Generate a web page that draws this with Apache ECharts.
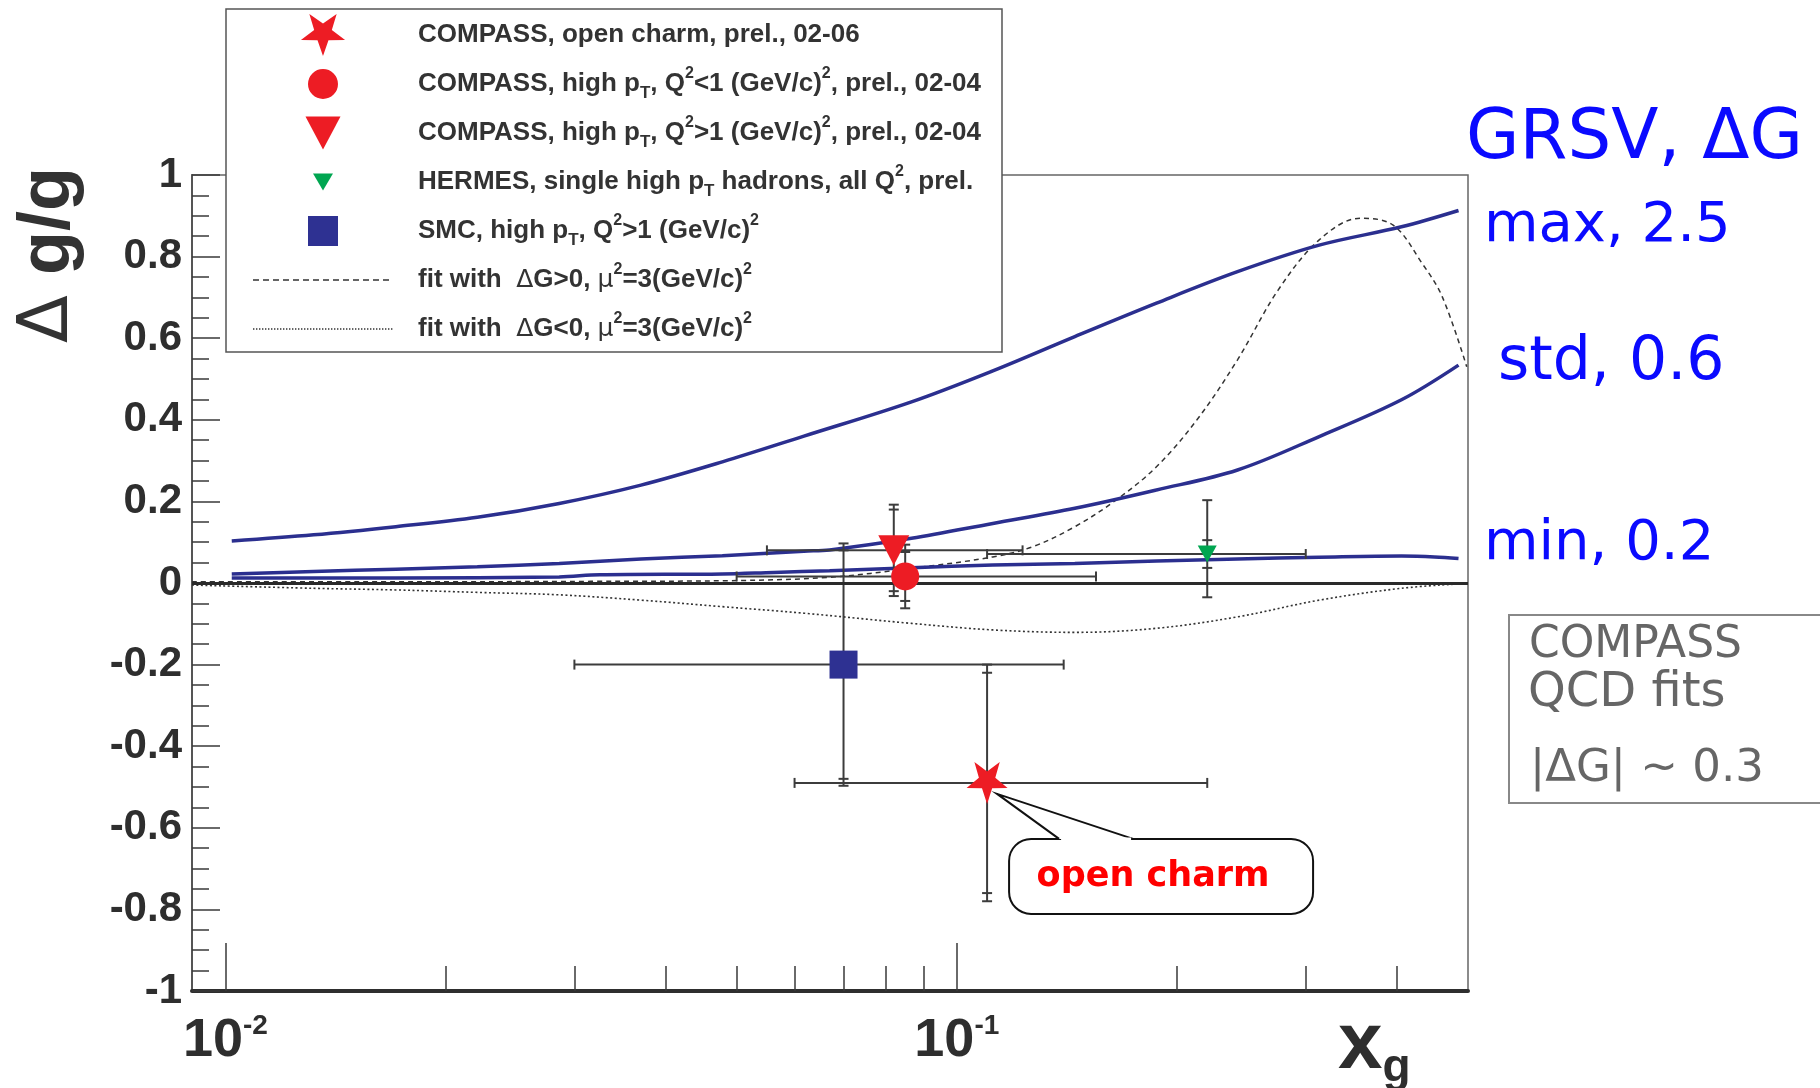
<!DOCTYPE html>
<html><head><meta charset="utf-8">
<script src="https://cdn.jsdelivr.net/npm/echarts@6/dist/echarts.min.js"></script>
<style>html,body{margin:0;padding:0;background:#fff}#c{width:1820px;height:1088px}</style>
</head><body><div id="c"></div>
<script>
// ---------------- data ----------------
const X_MIN = 0.009, X_MAX = 0.5;
const Y_MIN = -1, Y_MAX = 1, Y_STEP = 0.2;
const X_MAJOR_TICKS = [0.01, 0.1];
const X_MINOR_TICKS = [0.02, 0.03, 0.04, 0.05, 0.06, 0.07, 0.08, 0.09, 0.2, 0.3, 0.4];

// GRSV curves (Delta g / g)
const GRSV_MAX_X = [0.0102, 0.0132, 0.0171, 0.0221, 0.0286, 0.037, 0.0478, 0.0618, 0.0867, 0.112, 0.145, 0.1875, 0.242, 0.313, 0.4055, 0.4853];
const GRSV_MAX_Y = [0.103, 0.118, 0.138, 0.161, 0.195, 0.240, 0.297, 0.360, 0.444, 0.520, 0.604, 0.686, 0.763, 0.828, 0.873, 0.913];
const GRSV_STD_X = [0.0102, 0.0132, 0.0171, 0.0221, 0.0286, 0.037, 0.0478, 0.0618, 0.067, 0.0867, 0.112, 0.145, 0.1875, 0.242, 0.313, 0.4055, 0.4853];
const GRSV_STD_Y = [0.022, 0.028, 0.034, 0.040, 0.048, 0.059, 0.067, 0.078, 0.081, 0.1095, 0.146, 0.183, 0.228, 0.277, 0.359, 0.449, 0.534];
const GRSV_MIN_X = [0.0102, 0.0171, 0.0286, 0.0325, 0.0478, 0.0562, 0.067, 0.0867, 0.112, 0.145, 0.1875, 0.242, 0.313, 0.4055, 0.45, 0.4853];
const GRSV_MIN_Y = [0.012, 0.012, 0.015, 0.020, 0.022, 0.026, 0.030, 0.0375, 0.044, 0.048, 0.054, 0.059, 0.063, 0.066, 0.064, 0.060];

// COMPASS QCD fits
const FIT_POS_X = [0.009, 0.0171, 0.0316, 0.05, 0.067, 0.0867, 0.112, 0.127, 0.145, 0.165, 0.1875, 0.213, 0.242, 0.275, 0.313, 0.356, 0.395, 0.4325, 0.461, 0.498];
const FIT_POS_Y = [0.003, 0.003, 0.004, 0.006, 0.014, 0.036, 0.064, 0.089, 0.138, 0.203, 0.285, 0.400, 0.547, 0.718, 0.841, 0.894, 0.877, 0.784, 0.702, 0.530];
const FIT_NEG_X = [0.009, 0.0132, 0.0171, 0.0221, 0.0286, 0.037, 0.0478, 0.0618, 0.0867, 0.112, 0.145, 0.1875, 0.242, 0.313, 0.4055, 0.498];
const FIT_NEG_Y = [-0.005, -0.013, -0.017, -0.023, -0.029, -0.042, -0.058, -0.074, -0.099, -0.115, -0.121, -0.111, -0.083, -0.042, -0.013, -0.001];

// Measurements: open charm, high pT Q2<1, high pT Q2>1, HERMES, SMC
const PT_X      = [0.11, 0.085, 0.082, 0.22, 0.07];
const PT_Y      = [-0.49, 0.016, 0.08, 0.071, -0.20];
const PT_XLO    = [0.06, 0.05, 0.055, 0.11, 0.03];
const PT_XHI    = [0.22, 0.155, 0.123, 0.30, 0.14];
const PT_STATLO = [0.27, 0.06, 0.10, 0.034, 0.28];
const PT_STATHI = [0.27, 0.06, 0.10, 0.034, 0.28];
const PT_TOTLO  = [0.29, 0.078, 0.112, 0.106, 0.297];
const PT_TOTHI  = [0.29, 0.078, 0.112, 0.132, 0.297];

const SERIES_NAMES = [
  'COMPASS, open charm, prel., 02-06',
  'COMPASS, high pT, Q2<1 (GeV/c)2, prel., 02-04',
  'COMPASS, high pT, Q2>1 (GeV/c)2, prel., 02-04',
  'HERMES, single high pT hadrons, all Q2, prel.',
  'SMC, high pT, Q2>1 (GeV/c)2',
  'fit with ΔG>0, μ2=3(GeV/c)2',
  'fit with ΔG<0, μ2=3(GeV/c)2'
];
const LEGEND_TEXT = [
  '{g| }{b|COMPASS, open charm, prel., 02-06}',
  '{g| }{b|COMPASS, high p}{sub|T}{b|, Q}{sup|2}{b|<1 (GeV/c)}{sup|2}{b|, prel., 02-04}',
  '{g| }{b|COMPASS, high p}{sub|T}{b|, Q}{sup|2}{b|>1 (GeV/c)}{sup|2}{b|, prel., 02-04}',
  '{g| }{b|HERMES, single high p}{sub|T}{b| hadrons, all Q}{sup|2}{b|, prel.}',
  '{g| }{b|SMC, high p}{sub|T}{b|, Q}{sup|2}{b|>1 (GeV/c)}{sup|2}',
  '{g| }{b|fit with  }{sym|Δ}{b|G>0, }{sym|μ}{sup|2}{b|=3(GeV/c)}{sup|2}',
  '{g| }{b|fit with  }{sym|Δ}{b|G<0, }{sym|μ}{sup|2}{b|=3(GeV/c)}{sup|2}'
];

// ---------------- helpers ----------------
const L10 = Math.log10;
const pairs = (xs, ys) => xs.map((x, i) => [L10(x), ys[i]]);

const STAR = 'path://M50,100L38.2,66.2L2.45,65.45L31,43.8L20.6,9.55L50,30L79.4,9.55L69,43.8L97.55,65.45L61.8,66.2Z';
const TRI_DOWN = 'path://M0,0L100,0L50,87Z';
function dashIcon(dash, gap, h) {
  let s = 'path://M0,0M140,42';
  for (let x = 0; x + dash <= 140.01; x += dash + gap) {
    s += 'M' + x + ',' + (21 - h / 2) + 'L' + (x + dash) + ',' + (21 - h / 2) + 'L' + (x + dash) + ',' + (21 + h / 2) + 'L' + x + ',' + (21 + h / 2) + 'Z';
  }
  return s;
}
const LEGEND_ICONS = [
  STAR,
  'path://M0,0M100,100M14.3,50A35.7,35.7,0,1,1,85.7,50A35.7,35.7,0,1,1,14.3,50Z',
  'path://M0,0M100,100M8.3,10.7L91.7,10.7L50,89.3Z',
  'path://M0,0M100,100M26.2,29.8L73.8,29.8L50,70.2Z',
  'path://M0,0M100,100M14.3,14.3L85.7,14.3L85.7,85.7L14.3,85.7Z',
  dashIcon(6, 4, 1.4),
  dashIcon(1.4, 1.6, 1.4)
];
const MARKERS = [
  {symbol: STAR, size: [41, 42], color: '#ed1c24'},
  {symbol: 'circle', size: 28, color: '#ed1c24'},
  {symbol: TRI_DOWN, size: [31, 30], color: '#ed1c24'},
  {symbol: TRI_DOWN, size: [19, 17], color: '#00a651'},
  {symbol: 'rect', size: 28, color: '#2e3192'}
];

const ERR_DATA = PT_X.map((x, i) => [L10(x), PT_Y[i], L10(PT_XLO[i]), L10(PT_XHI[i]),
  PT_Y[i] - PT_STATLO[i], PT_Y[i] + PT_STATHI[i], PT_Y[i] - PT_TOTLO[i], PT_Y[i] + PT_TOTHI[i]]);

function renderErr(params, api) {
  const x = api.value(0), y = api.value(1);
  const c = api.coord([x, y]);
  const xl = api.coord([api.value(2), y])[0];
  const xh = api.coord([api.value(3), y])[0];
  const s1 = api.coord([x, api.value(4)])[1];
  const s2 = api.coord([x, api.value(5)])[1];
  const t1 = api.coord([x, api.value(6)])[1];
  const t2 = api.coord([x, api.value(7)])[1];
  const st = {stroke: '#3c3c3c', lineWidth: 2};
  const L = (x1, y1, x2, y2) => ({type: 'line', shape: {x1, y1, x2, y2}, style: st});
  const cap = 5, hcap = 5;
  return {type: 'group', children: [
    L(xl, c[1], xh, c[1]), L(xl, c[1] - hcap, xl, c[1] + hcap), L(xh, c[1] - hcap, xh, c[1] + hcap),
    L(c[0], t1, c[0], t2),
    L(c[0] - cap, s1, c[0] + cap, s1), L(c[0] - cap, s2, c[0] + cap, s2),
    L(c[0] - cap, t1, c[0] + cap, t1), L(c[0] - cap, t2, c[0] + cap, t2)
  ]};
}

function renderCallout(params, api) {
  const p = api.coord([api.value(0), api.value(1)]);
  const bx = p[0] + 22, by = p[1] + 56, bw = 304, bh = 75;
  const tip = [p[0] + 10, p[1] + 11], b1 = [p[0] + 72, by], b2 = [p[0] + 146, by];
  return {type: 'group', children: [
    {type: 'rect', shape: {x: bx, y: by, width: bw, height: bh, r: 22}, style: {fill: '#fff', stroke: '#111', lineWidth: 2}},
    {type: 'polyline', shape: {points: [b1, tip, b2]}, style: {fill: '#fff', stroke: '#111', lineWidth: 2}},
    {type: 'line', shape: {x1: b1[0] + 2, y1: by, x2: b2[0] - 2, y2: by}, style: {stroke: '#fff', lineWidth: 3}},
    {type: 'text', style: {text: 'open charm', x: bx + bw / 2 - 8, y: by + bh / 2, align: 'center', verticalAlign: 'middle',
      fill: '#ff0000', font: 'bold 35px "DejaVu Sans"'}}
  ]};
}

const FONT = 'Liberation Sans';
const AXIS_COL = '#3a3a3a';

const series = [];
const lineSpec = (name, xs, ys, color, width, type, z) => ({
  name, type: 'line', data: pairs(xs, ys), symbol: 'none', smooth: 0.35, z,
  color, itemStyle: {color}, lineStyle: {color, width, type}, silent: true
});
series.push(lineSpec('GRSV max', GRSV_MAX_X, GRSV_MAX_Y, '#2b2f8f', 3.5, 'solid', 3));
series.push(lineSpec('GRSV std', GRSV_STD_X, GRSV_STD_Y, '#2b2f8f', 3.5, 'solid', 3));
const minS = lineSpec('GRSV min', GRSV_MIN_X, GRSV_MIN_Y, '#2b2f8f', 3.5, 'solid', 3);
minS.markLine = {silent: true, symbol: ['none', 'none'], label: {show: false}, animation: false,
  lineStyle: {color: '#2a2a2a', width: 3, type: 'solid'}, data: [{yAxis: 0}]};
series.push(minS);
series.push(lineSpec(SERIES_NAMES[5], FIT_POS_X, FIT_POS_Y, '#333', 1.5, [5, 4], 2));
series.push(lineSpec(SERIES_NAMES[6], FIT_NEG_X, FIT_NEG_Y, '#333', 1.6, [2, 2.5], 2));
series.push({type: 'custom', name: 'errors', renderItem: renderErr, data: ERR_DATA, z: 4, silent: true,
  encode: {x: 0, y: 1}});
PT_X.forEach((x, i) => {
  const m = MARKERS[i];
  series.push({name: SERIES_NAMES[i], type: 'scatter', data: [[L10(x), PT_Y[i]]], symbol: m.symbol,
    symbolSize: m.size, z: 6, itemStyle: {color: m.color, opacity: 1}, silent: true});
});
series.push({type: 'custom', name: 'callout', renderItem: renderCallout, data: [[L10(PT_X[0]), PT_Y[0]]], z: 7, silent: true});

const option = {
  animation: false,
  backgroundColor: '#fff',
  textStyle: {fontFamily: FONT},
  grid: {left: 192, right: 352, top: 175, bottom: 97, show: true, borderColor: '#666', borderWidth: 1.5},
  xAxis: [
    {type: 'value', position: 'bottom', min: L10(X_MIN), max: L10(X_MAX),
      axisLine: {show: true, onZero: false, lineStyle: {color: '#2e2e2e', width: 4}},
      axisTick: {show: true, inside: true, length: 48, customValues: X_MAJOR_TICKS.map(L10), lineStyle: {color: AXIS_COL, width: 1.5}},
      splitLine: {show: false},
      axisLabel: {show: true, margin: 21, customValues: X_MAJOR_TICKS.map(L10),
        formatter: v => '{b|10}{s|' + Math.round(v) + '}',
        rich: {
          b: {fontFamily: FONT, fontWeight: 'bold', fontSize: 54, lineHeight: 58, color: '#2e2e2e'},
          s: {fontFamily: FONT, fontWeight: 'bold', fontSize: 28, lineHeight: 12, verticalAlign: 'top', color: '#2e2e2e'}
        }}},
    {type: 'value', position: 'bottom', min: L10(X_MIN), max: L10(X_MAX),
      axisLine: {show: false, onZero: false},
      axisTick: {show: true, inside: true, length: 25, customValues: X_MINOR_TICKS.map(L10), lineStyle: {color: AXIS_COL, width: 1.5}},
      splitLine: {show: false}, axisLabel: {show: false}}
  ],
  yAxis: {type: 'value', min: Y_MIN, max: Y_MAX, interval: Y_STEP,
    axisLine: {show: true, onZero: false, lineStyle: {color: '#555', width: 2}},
    axisTick: {show: true, inside: true, length: 28, lineStyle: {color: AXIS_COL, width: 1.5}},
    minorTick: {show: true, splitNumber: 4, length: 17, lineStyle: {color: AXIS_COL, width: 1.5}},
    splitLine: {show: false}, minorSplitLine: {show: false},
    axisLabel: {margin: 10, fontFamily: FONT, fontWeight: 'bold', fontSize: 42, color: '#2e2e2e',
      formatter: v => { const r = Math.round(v * 10) / 10; return r === 0 ? '0' : (Math.abs(r) === 1 ? String(r) : r.toFixed(1)); }}
  },
  legend: {
    left: 226, top: 9, orient: 'vertical', itemWidth: 140, itemHeight: 42, itemGap: 7,
    padding: [5, 21, 2, 27], borderColor: '#555', borderWidth: 1.5, backgroundColor: '#fff',
    selectedMode: false, symbolKeepAspect: true,
    data: SERIES_NAMES.map((n, i) => ({name: n, icon: LEGEND_ICONS[i]})),
    formatter: name => LEGEND_TEXT[SERIES_NAMES.indexOf(name)],
    textStyle: {fontFamily: FONT, fontWeight: 'bold', fontSize: 26, color: '#333',
      rich: {
        g: {width: 20},
        b: {fontFamily: FONT, fontWeight: 'bold', fontSize: 26, lineHeight: 36, color: '#333'},
        sub: {fontFamily: FONT, fontWeight: 'bold', fontSize: 17, lineHeight: 14, verticalAlign: 'bottom', color: '#333'},
        sup: {fontFamily: FONT, fontWeight: 'bold', fontSize: 16, lineHeight: 18, verticalAlign: 'top', color: '#333'},
        sym: {fontFamily: 'DejaVu Sans', fontWeight: 'normal', fontSize: 25, lineHeight: 36, color: '#333'}
      }}
  },
  graphic: [
    {type: 'text', x: 49, y: 255, rotation: Math.PI / 2, style: {text: '{d|Δ}{b| g/g}', align: 'center', verticalAlign: 'middle',
      rich: {d: {fontFamily: 'DejaVu Sans', fontSize: 70, fill: '#333'}, b: {fontFamily: FONT, fontWeight: 'bold', fontSize: 72, fill: '#333'}}}},
    {type: 'text', x: 1338, y: 1046, style: {text: '{x|x}{g|g}', align: 'left', verticalAlign: 'middle',
      rich: {x: {fontFamily: FONT, fontWeight: 'bold', fontSize: 80, lineHeight: 90, fill: '#2e2e2e'},
             g: {fontFamily: FONT, fontWeight: 'bold', fontSize: 46, lineHeight: 56, verticalAlign: 'bottom', fill: '#2e2e2e'}}}},
    {type: 'text', x: 1466, y: 140, style: {text: 'GRSV, ΔG', font: '69px "DejaVu Sans"', fill: '#0a0aff', align: 'left', verticalAlign: 'middle'}},
    {type: 'text', x: 1484, y: 226, style: {text: 'max, 2.5', font: '56px "DejaVu Sans"', fill: '#0a0aff', align: 'left', verticalAlign: 'middle'}},
    {type: 'text', x: 1498, y: 363, style: {text: 'std, 0.6', font: '60px "DejaVu Sans"', fill: '#0a0aff', align: 'left', verticalAlign: 'middle'}},
    {type: 'text', x: 1484, y: 544, style: {text: 'min, 0.2', font: '56px "DejaVu Sans"', fill: '#0a0aff', align: 'left', verticalAlign: 'middle'}},
    {type: 'rect', shape: {x: 1509, y: 615, width: 340, height: 188}, style: {fill: 'none', stroke: '#888', lineWidth: 2}},
    {type: 'text', x: 1529, y: 646, style: {text: 'COMPASS', font: '44px "DejaVu Sans"', fill: '#666', align: 'left', verticalAlign: 'middle'}},
    {type: 'text', x: 1528, y: 694, style: {text: 'QCD fits', font: '48px "DejaVu Sans"', fill: '#666', align: 'left', verticalAlign: 'middle'}},
    {type: 'text', x: 1530, y: 769, style: {text: '|ΔG| ~ 0.3', font: '45px "DejaVu Sans"', fill: '#666', align: 'left', verticalAlign: 'middle'}}
  ],
  series
};
const chart = echarts.init(document.getElementById('c'), null, {renderer: 'canvas'});
chart.setOption(option);
</script></body></html>
